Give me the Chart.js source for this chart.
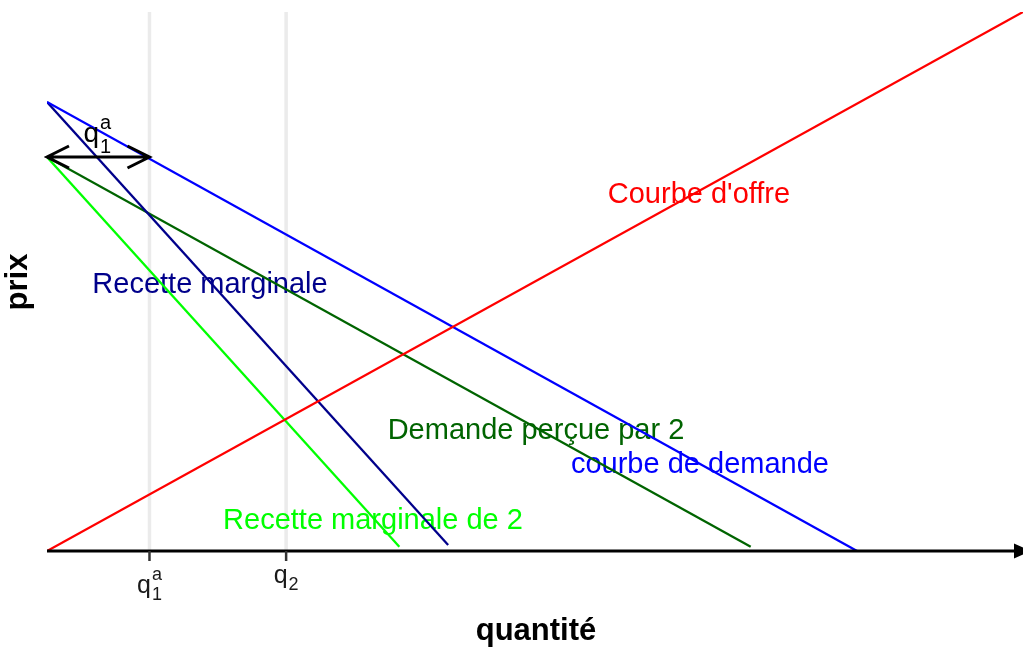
<!DOCTYPE html>
<html>
<head>
<meta charset="utf-8">
<script src="https://cdn.jsdelivr.net/npm/chart.js@4/dist/chart.umd.min.js"></script>
<style>
  html, body { margin: 0; padding: 0; background: #fff; overflow: hidden; }
  canvas { display: block; }
</style>
</head>
<body>
<canvas id="chart" width="1023" height="650"></canvas>
<script>
// courbes (quantité, prix)
var offreQ = [0, 100];
var offreP = [0, 100];
var demandeQ = [0, 83];
var demandeP = [83.3, 0];
var recetteQ = [0, 41.1];
var recetteP = [83.3, 1.1];
var demande2Q = [0, 72.1];
var demande2P = [73.1, 0.8];
var recette2Q = [0, 36.1];
var recette2P = [73.1, 0.8];

// graduations de l'axe des quantités
var tickQ = [10.5, 24.5];
var tickBase = ['q', 'q'];
var tickSub = ['1', '2'];
var tickSup = ['a', ''];

// flèche q1a
var flecheQ = [0, 10.5];
var flecheP = 73.1;

// textes (position en unités du graphique)
var labels = [
    { text: "Courbe d'offre", x: 66.8, y: 64.6, color: '#FF0000' },
    { text: 'Recette marginale', x: 16.7, y: 47.9, color: '#00008B' },
    { text: 'Demande perçue par 2', x: 50.1, y: 20.8, color: '#006400' },
    { text: 'courbe de demande', x: 66.9, y: 14.5, color: '#0000FF' },
    { text: 'Recette marginale de 2', x: 33.4, y: 4.1, color: '#00FF00' }
];

function toPoints(qs, ps) {
    var pts = [];
    for (var i = 0; i < qs.length; i++) pts.push({ x: qs[i], y: ps[i] });
    return pts;
}

function line(qs, ps, color) {
    return {
        data: toPoints(qs, ps),
        showLine: true,
        borderColor: color,
        borderWidth: 2.3,
        pointRadius: 0,
        fill: false
    };
}

var FONT = '"Liberation Sans", Arial, Helvetica, sans-serif';

function drawMath(ctx, cx, y, base, sub, sup, big, small, subDy, supDy) {
    ctx.font = big + 'px ' + FONT;
    var wb = ctx.measureText(base).width;
    ctx.font = small + 'px ' + FONT;
    var ws = Math.max(ctx.measureText(sub).width, ctx.measureText(sup).width);
    var x0 = cx - (wb + ws + 1) / 2;
    ctx.textAlign = 'left';
    ctx.textBaseline = 'alphabetic';
    ctx.font = big + 'px ' + FONT;
    ctx.fillText(base, x0, y);
    ctx.font = small + 'px ' + FONT;
    if (sub) ctx.fillText(sub, x0 + wb + 1, y + subDy);
    if (sup) ctx.fillText(sup, x0 + wb + 1, y - supDy);
}

var decor = {
    id: 'decor',
    beforeDatasetsDraw: function (chart) {
        var ctx = chart.ctx;
        var xs = chart.scales.x, ys = chart.scales.y;
        var area = chart.chartArea;
        ctx.save();
        // grille verticale
        ctx.strokeStyle = '#EBEBEB';
        ctx.lineWidth = 3.5;
        tickQ.forEach(function (q) {
            var px = xs.getPixelForValue(q);
            ctx.beginPath();
            ctx.moveTo(px, area.top);
            ctx.lineTo(px, area.bottom);
            ctx.stroke();
        });
        // textes
        ctx.font = '29px ' + FONT;
        ctx.textAlign = 'center';
        ctx.textBaseline = 'alphabetic';
        labels.forEach(function (l) {
            ctx.fillStyle = l.color;
            ctx.fillText(l.text, xs.getPixelForValue(l.x), ys.getPixelForValue(l.y));
        });
        ctx.restore();
    },
    afterDatasetsDraw: function (chart) {
        var ctx = chart.ctx;
        var xs = chart.scales.x, ys = chart.scales.y;
        var area = chart.chartArea;
        var y0 = ys.getPixelForValue(0);
        ctx.save();

        // axe des quantités avec flèche
        var x0 = xs.getPixelForValue(0);
        var xEnd = area.right + 8;
        ctx.strokeStyle = '#000';
        ctx.fillStyle = '#000';
        ctx.lineWidth = 3;
        ctx.beginPath();
        ctx.moveTo(x0, y0);
        ctx.lineTo(xEnd - 12, y0);
        ctx.stroke();
        ctx.beginPath();
        ctx.moveTo(xEnd, y0);
        ctx.lineTo(xEnd - 17, y0 - 7.5);
        ctx.lineTo(xEnd - 17, y0 + 7.5);
        ctx.closePath();
        ctx.fill();

        // graduations
        ctx.strokeStyle = '#333333';
        ctx.lineWidth = 2.5;
        ctx.fillStyle = '#1a1a1a';
        tickQ.forEach(function (q, i) {
            var px = xs.getPixelForValue(q);
            ctx.beginPath();
            ctx.moveTo(px, y0);
            ctx.lineTo(px, y0 + 10);
            ctx.stroke();
            var base = tickSup[i] ? y0 + 42 : y0 + 32;
            drawMath(ctx, px, base, tickBase[i], tickSub[i], tickSup[i], 25, 18, 7, 13);
        });

        // double flèche q1a
        var ya = ys.getPixelForValue(flecheP);
        var xa = xs.getPixelForValue(flecheQ[0]);
        var xb = xs.getPixelForValue(flecheQ[1]);
        ctx.strokeStyle = '#000';
        ctx.lineWidth = 3;
        ctx.lineCap = 'butt';
        ctx.beginPath();
        ctx.moveTo(xa, ya); ctx.lineTo(xb, ya);
        ctx.moveTo(xa + 22, ya - 11); ctx.lineTo(xa, ya); ctx.lineTo(xa + 22, ya + 11);
        ctx.moveTo(xb - 22, ya - 11); ctx.lineTo(xb, ya); ctx.lineTo(xb - 22, ya + 11);
        ctx.stroke();
        ctx.fillStyle = '#000';
        drawMath(ctx, (xa + xb) / 2 - 1, ya - 15, 'q', '1', 'a', 28, 20, 11, 13);

        // titres des axes
        ctx.fillStyle = '#000';
        ctx.font = 'bold 31px ' + FONT;
        ctx.textAlign = 'center';
        ctx.textBaseline = 'middle';
        ctx.fillText('quantité', 536, 631);
        ctx.translate(18, 282);
        ctx.rotate(-Math.PI / 2);
        ctx.fillText('prix', 0, 0);
        ctx.restore();
    }
};

var ctxChart = document.getElementById('chart').getContext('2d');
var chart = new Chart(ctxChart, {
    type: 'scatter',
    data: {
        datasets: [
            line(offreQ, offreP, '#FF0000'),
            line(demandeQ, demandeP, '#0000FF'),
            line(recetteQ, recetteP, '#00008B'),
            line(demande2Q, demande2P, '#006400'),
            line(recette2Q, recette2P, '#00FF00')
        ]
    },
    options: {
        responsive: false,
        animation: false,
        devicePixelRatio: 1,
        layout: { padding: { left: 47, right: 0, top: 12, bottom: 99 } },
        plugins: { legend: { display: false }, tooltip: { enabled: false } },
        scales: {
            x: { type: 'linear', min: 0, max: 100, display: false },
            y: { type: 'linear', min: 0, max: 100, display: false }
        }
    },
    plugins: [decor]
});
</script>
</body>
</html>
